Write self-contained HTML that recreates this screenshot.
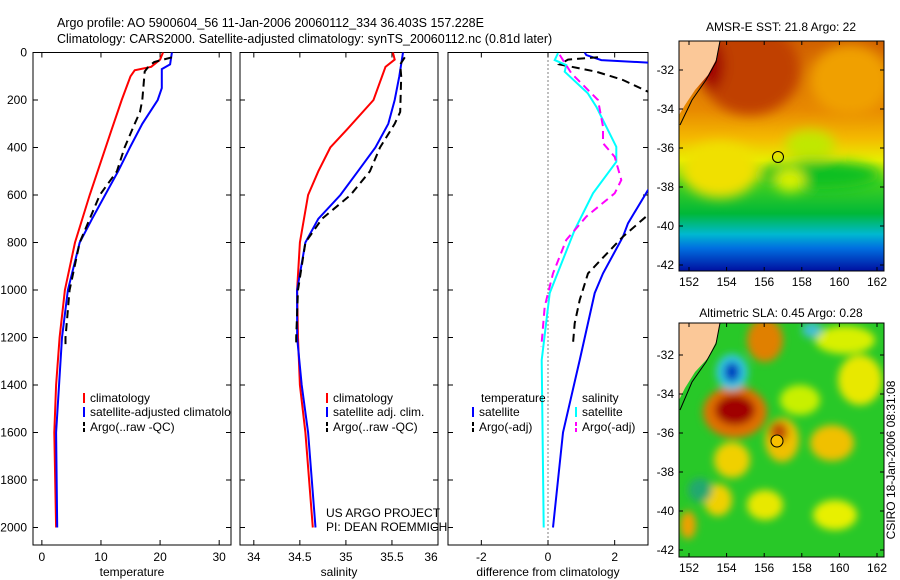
<!DOCTYPE html>
<html><head><meta charset="utf-8">
<style>
body{margin:0;background:#fff;}
svg{display:block;font-family:"Liberation Sans",sans-serif;}
text{font-size:12px;fill:#000;}
.ttl{font-size:12.5px;}
</style></head>
<body>
<svg id="c" width="900" height="580" xmlns="http://www.w3.org/2000/svg">
<defs>
<filter id="bl" x="-20%" y="-20%" width="140%" height="140%"><feGaussianBlur stdDeviation="6"/></filter>
<filter id="bl2" x="-20%" y="-20%" width="140%" height="140%"><feGaussianBlur stdDeviation="4"/></filter>
<clipPath id="cm1"><rect x="679" y="41" width="205" height="230"/></clipPath>
<clipPath id="cm2"><rect x="679" y="323" width="205" height="234"/></clipPath>
<linearGradient id="sstg" x1="0" y1="0" x2="0" y2="1">
<stop offset="0" stop-color="#d06000"/><stop offset="0.3" stop-color="#e88a00"/>
<stop offset="0.42" stop-color="#f4b800"/><stop offset="0.52" stop-color="#e8f000"/>
<stop offset="0.62" stop-color="#40d020"/><stop offset="0.75" stop-color="#00b838"/>
<stop offset="0.84" stop-color="#00b8d0"/><stop offset="0.9" stop-color="#0070e0"/>
<stop offset="1" stop-color="#0010a0"/></linearGradient>
</defs>
<text class="ttl" x="57" y="27">Argo profile: AO 5900604_56 11-Jan-2006 20060112_334 36.403S 157.228E</text>
<text class="ttl" x="57" y="43">Climatology: CARS2000. Satellite-adjusted climatology: synTS_20060112.nc (0.81d later)</text>

<g clip-path="url(#cm1)">
<rect x="679" y="41" width="205" height="230" fill="url(#sstg)"/>
<g filter="url(#bl)">
<ellipse cx="750" cy="70" rx="50" ry="45" fill="#c04000"/>
<ellipse cx="712" cy="65" rx="12" ry="25" fill="#a00000"/>
<ellipse cx="850" cy="80" rx="40" ry="35" fill="#f0a000"/>
<ellipse cx="720" cy="170" rx="38" ry="28" fill="#f0e000"/>
<ellipse cx="810" cy="145" rx="25" ry="15" fill="#c0e800"/>
<ellipse cx="820" cy="175" rx="60" ry="14" fill="#10c020"/>
<ellipse cx="790" cy="180" rx="15" ry="12" fill="#d8f000"/>
</g>
<path d="M679 41 L720 41 L716 60 L708 75 L695 90 L685 105 L679 115 Z" fill="#fbc898"/>
<path d="M720 41 L716 62 L706 80 L692 100 L680 125" fill="none" stroke="#000" stroke-width="1"/>
<circle cx="778" cy="157" r="5.5" fill="none" stroke="#000" stroke-width="1"/>
</g>
<rect x="679" y="41" width="205" height="230" fill="none" stroke="#000"/>
<text x="781" y="31" text-anchor="middle">AMSR-E SST: 21.8 Argo: 22</text>

<g clip-path="url(#cm2)">
<rect x="679" y="323" width="205" height="234" fill="#28c828"/>
<g filter="url(#bl2)">
<ellipse cx="765" cy="340" rx="18" ry="22" fill="#e08000"/>
<ellipse cx="800" cy="400" rx="20" ry="15" fill="#c8f000"/>
<ellipse cx="735" cy="412" rx="32" ry="26" fill="#e07000"/>
<ellipse cx="735" cy="410" rx="20" ry="15" fill="#a00000"/>
<ellipse cx="732" cy="372" rx="16" ry="18" fill="#30c8e0"/>
<ellipse cx="732" cy="372" rx="8" ry="10" fill="#0040c0"/>
<ellipse cx="782" cy="440" rx="17" ry="22" fill="#f0c000"/>
<ellipse cx="779" cy="432" rx="9" ry="10" fill="#c05000"/>
<ellipse cx="832" cy="443" rx="22" ry="18" fill="#f0c000"/>
<ellipse cx="732" cy="460" rx="18" ry="18" fill="#f0d000"/>
<ellipse cx="718" cy="500" rx="14" ry="16" fill="#f0d000"/>
<ellipse cx="765" cy="505" rx="18" ry="15" fill="#e8e800"/>
<ellipse cx="835" cy="515" rx="22" ry="15" fill="#e8f000"/>
<ellipse cx="860" cy="380" rx="22" ry="25" fill="#e8e800"/>
<ellipse cx="845" cy="340" rx="30" ry="14" fill="#d8f000"/>
<ellipse cx="688" cy="525" rx="8" ry="14" fill="#f0a000"/>
<ellipse cx="700" cy="490" rx="12" ry="12" fill="#20a870"/>
<ellipse cx="812" cy="330" rx="10" ry="8" fill="#40c0d0"/>
</g>
<path d="M679 323 L720 323 L716 342 L708 358 L695 372 L685 388 L679 400 Z" fill="#fbc898"/>
<path d="M720 323 L716 344 L706 362 L692 382 L680 410" fill="none" stroke="#000" stroke-width="1"/>
<circle cx="777" cy="441" r="6" fill="#f8c000" stroke="#000" stroke-width="1"/>
</g>
<rect x="679" y="323" width="205" height="234" fill="none" stroke="#000"/>
<text x="781" y="317" text-anchor="middle">Altimetric SLA: 0.45 Argo: 0.28</text>
<text transform="translate(895,460) rotate(-90)" text-anchor="middle">CSIRO 18-Jan-2006 08:31:08</text>
<text x="326" y="517">US ARGO PROJECT</text>
<text x="326" y="531">PI: DEAN ROEMMICH</text>
</svg>
<script>
// ---- data ----
const depthTicks=[0,200,400,600,800,1000,1200,1400,1600,1800,2000];
const tempTicks=[0,10,20,30];
const salTicks=[34,34.5,35,35.5,36];
const diffTicks=[-2,0,2];
const tClimD=[0,30,60,75,100,200,325,600,800,1000,1200,1400,1600,2000];
const tClimV=[20.5,20,18.5,15.7,15,13.5,11.8,8.1,5.6,3.9,3.0,2.4,2.1,2.4];
const tSatD=[0,50,70,150,200,300,400,500,600,700,800,1000,1200,1600,2000];
const tSatV=[22,21.7,20.3,20.3,19.6,17,14.9,12.9,10.7,8.5,6.4,4.4,3.4,2.4,2.6];
const tArgD=[20,40,60,80,200,250,300,400,500,600,800,1000,1200,1230];
const tArgV=[22,19,18,17.4,17,16.6,15.7,14,12.7,9.8,6.4,4.7,4.0,4.0];
const sClimD=[0,30,60,200,325,400,500,600,800,1000,1200,1400,1600,2000];
const sClimV=[35.51,35.53,35.43,35.3,35.01,34.83,34.7,34.59,34.5,34.47,34.48,34.5,34.56,34.64];
const sSatD=[0,100,200,300,400,500,600,700,800,1000,1200,1400,1600,2000];
const sSatV=[35.62,35.58,35.53,35.46,35.32,35.13,34.94,34.7,34.56,34.47,34.47,34.52,34.59,34.67];
const sArgD=[20,50,100,250,300,400,500,600,700,800,1000,1200,1230];
const sArgV=[35.64,35.59,35.6,35.59,35.53,35.37,35.26,35.05,34.74,34.56,34.48,34.46,34.46];
const dTSatD=[0,11,32,44,100,400,579,719,775,930,1013,1295,1600,2000];
const dTSatV=[1.1,1.15,1.6,3.2,4.5,4.5,3.0,2.4,2.25,1.65,1.4,0.95,0.45,0.15];
const dTArgD=[20,30,50,81,116,165,300,684,775,930,1042,1140,1225];
const dTArgV=[1.5,0.6,0.35,1.45,2.25,3.0,4.5,3.0,2.25,1.2,0.95,0.8,0.75];
const dSSatD=[3,32,53,81,171,228,397,460,593,747,1013,1295,2000];
const dSSatV=[0.3,0.2,0.55,0.5,1.19,1.45,2.05,2.05,1.35,0.8,0.05,-0.19,-0.13];
const dSArgD=[10,87,200,312,382,439,537,593,691,789,930,1070,1240];
const dSArgV=[0.35,0.7,1.5,1.65,1.65,2.0,2.2,2.0,1.15,0.55,0.15,-0.1,-0.2];

const svg=document.getElementById('c');
const NS='http://www.w3.org/2000/svg';
const Y0=52.5,Y1=545,KY=0.2375;
function py(d){return Y0+d*KY;}
function mk(tag,attrs,parent){const e=document.createElementNS(NS,tag);for(const k in attrs)e.setAttribute(k,attrs[k]);(parent||svg).appendChild(e);return e;}
const panels=[
 {n:'temperature-panel',x0:33,x1:231,v0:-1.5,v1:32,ticks:tempTicks,title:'temperature'},
 {n:'salinity-panel',x0:240,x1:438,v0:33.85,v1:36.0,ticks:salTicks,title:'salinity'},
 {n:'difference-panel',x0:448,x1:648,v0:-3,v1:3,ticks:diffTicks,title:'difference from climatology'}];
panels.forEach((p,i)=>{
 p.px=v=>p.x0+(v-p.v0)/(p.v1-p.v0)*(p.x1-p.x0);
 const g=mk('g',{});
 
 
 p.g=g;
 const cp=mk('clipPath',{id:'cp'+i},g);
 mk('rect',{x:p.x0,y:Y0,width:p.x1-p.x0,height:Y1-Y0},cp);
 const fr=mk('rect',{x:p.x0,y:Y0,width:p.x1-p.x0,height:Y1-Y0,fill:'none',stroke:'#000','stroke-width':1},g);
 
 
 p.ticks.forEach(t=>{
  const x=p.px(t);
  mk('line',{x1:x,x2:x,y1:Y1,y2:Y1-5,stroke:'#000'},g);
  mk('line',{x1:x,x2:x,y1:Y0,y2:Y0+5,stroke:'#000'},g);
  const tx=mk('text',{x:Math.min(x,p.x1-7),y:561,'text-anchor':'middle'},g);
  tx.textContent=t;
  
  
 });
 depthTicks.forEach(d=>{
  const y=py(d);
  mk('line',{x1:p.x0,x2:p.x0+5,y1:y,y2:y,stroke:'#000'},g);
  mk('line',{x1:p.x1,x2:p.x1-5,y1:y,y2:y,stroke:'#000'},g);
  if(i===0){const tx=mk('text',{x:27,y:y+4,'text-anchor':'end'},g);tx.textContent=d;
   
   }
 });
 const at=mk('text',{x:(p.x0+p.x1)/2,y:576,'text-anchor':'middle'},g);
 at.textContent=p.title;
 
 
});
const p3=panels[2];
const zl=mk('line',{x1:p3.px(0),x2:p3.px(0),y1:Y0,y2:Y1,stroke:'#000','stroke-dasharray':'1,3'},p3.g);


function series(p,idx,D,V,color,dash,name){
 const pts=D.map((d,k)=>p.px(V[k]).toFixed(1)+','+py(d).toFixed(1)).join(' ');
 const e=mk('polyline',{points:pts,fill:'none',stroke:color,'stroke-width':2,'clip-path':'url(#cp'+idx+')'},p.g);
 if(dash)e.setAttribute('stroke-dasharray',dash);
 
 
}
series(panels[0],0,tClimD,tClimV,'#f00',null,'temp-climatology-line');
series(panels[0],0,tSatD,tSatV,'#00f',null,'temp-satellite-line');
series(panels[0],0,tArgD,tArgV,'#000','8,5','temp-argo-line');
series(panels[1],1,sClimD,sClimV,'#f00',null,'sal-climatology-line');
series(panels[1],1,sSatD,sSatV,'#00f',null,'sal-satellite-line');
series(panels[1],1,sArgD,sArgV,'#000','8,5','sal-argo-line');
series(p3,2,dTSatD,dTSatV,'#00f',null,'diff-temp-satellite-line');
series(p3,2,dTArgD,dTArgV,'#000','8,5','diff-temp-argo-line');
series(p3,2,dSSatD,dSSatV,'#0ff',null,'diff-sal-satellite-line');
series(p3,2,dSArgD,dSArgV,'#f0f','8,5','diff-sal-argo-line');
function leg(g,x,y,color,dash,label){
 const l=mk('line',{x1:x,x2:x,y1:y-9,y2:y+1,stroke:color,'stroke-width':2},g);
 if(dash)l.setAttribute('stroke-dasharray','4,2');
 
 
 const t=mk('text',{x:x+6,y:y},g);t.textContent=label;
 
 
}
const lg1=mk('g',{'clip-path':'url(#cp0)'},panels[0].g);


leg(lg1,84,402,'#f00',0,'climatology');
leg(lg1,84,416,'#00f',0,'satellite-adjusted climatology');
leg(lg1,84,431,'#000',1,'Argo(..raw -QC)');
const lg2=mk('g',{},panels[1].g);


leg(lg2,327,402,'#f00',0,'climatology');
leg(lg2,327,416,'#00f',0,'satellite adj. clim.');
leg(lg2,327,431,'#000',1,'Argo(..raw -QC)');
const lg3=mk('g',{},p3.g);


const h1=mk('text',{x:481,y:402},lg3);h1.textContent='temperature';


const h2=mk('text',{x:582,y:402},lg3);h2.textContent='salinity';


leg(lg3,473,416,'#00f',0,'satellite');
leg(lg3,473,431,'#000',1,'Argo(-adj)');
leg(lg3,576,416,'#0ff',0,'satellite');
leg(lg3,576,431,'#f0f',1,'Argo(-adj)');
const lonT=[152,154,156,158,160,162], latT=[-32,-34,-36,-38,-40,-42];
function mapAxes(top,bot,lat32y,name){
 const g=mk('g',{});
 
 
 lonT.forEach(l=>{const x=689+(l-152)*18.8;
  mk('line',{x1:x,x2:x,y1:bot,y2:bot-4,stroke:'#000'},g);
  mk('line',{x1:x,x2:x,y1:top,y2:top+4,stroke:'#000'},g);
  const t=mk('text',{x:x,y:bot+15,'text-anchor':'middle'},g);t.textContent=l;
  
  });
 latT.forEach(l=>{const y=lat32y+(-32-l)*19.5;
  mk('line',{x1:679,x2:683,y1:y,y2:y,stroke:'#000'},g);
  mk('line',{x1:884,x2:880,y1:y,y2:y,stroke:'#000'},g);
  const t=mk('text',{x:674,y:y+4,'text-anchor':'end'},g);t.textContent=l;
  
  });
}
mapAxes(41,271,70,'sst-map-axes');
mapAxes(323,557,355,'sla-map-axes');
</script>
</body></html>
